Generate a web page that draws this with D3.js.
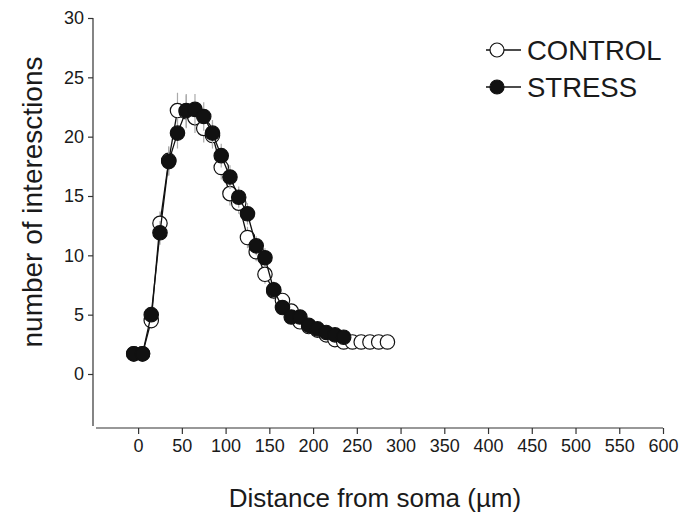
<!DOCTYPE html>
<html><head><meta charset="utf-8">
<script src="https://cdn.jsdelivr.net/npm/d3@7"></script>
<style>body{margin:0;background:#fff}svg{display:block}text{font-family:"Liberation Sans",Arial,sans-serif;fill:#1a1a1a}</style>
</head><body><svg id="c" width="684" height="514"></svg>
<script>
const xTicks = [0,50,100,150,200,250,300,350,400,450,500,550,600];
const yTicks = [0,5,10,15,20,25,30];
const controlX = [-5,5,15,25,35,45,55,65,75,85,95,105,115,125,135,145,155,165,175,185,195,205,215,225,235,245,255,265,275,285];
const controlY = [1.7,1.7,4.5,12.7,18.0,22.2,22.1,21.6,20.7,20.1,17.4,15.2,14.4,11.5,10.3,8.4,7.0,6.2,5.3,4.4,4.0,3.7,3.3,2.9,2.7,2.7,2.7,2.7,2.7,2.7];
const controlErr = [0.2,0.2,0.6,1.0,1.2,1.5,1.4,1.3,1.2,1.1,1.0,1.0,0.9,0.9,0.8,0.8,0.7,0.6,0.5,0.5,0.4,0.4,0.4,0.3,0.3,0.3,0.3,0.3,0.3,0.3];
const stressX = [-5,5,15,25,35,45,55,65,75,85,95,105,115,125,135,145,155,165,175,185,195,205,215,225,235];
const stressY = [1.7,1.7,5.0,11.9,17.9,20.3,22.2,22.3,21.7,20.3,18.4,16.6,14.9,13.5,10.8,9.8,7.1,5.6,4.8,4.8,4.1,3.8,3.5,3.3,3.1];
const stressErr = [0.2,0.2,0.6,1.0,1.2,1.3,1.4,1.3,1.2,1.1,1.0,1.0,0.9,0.9,0.8,0.8,0.7,0.6,0.5,0.5,0.4,0.4,0.4,0.3,0.3];

const svg = d3.select("#c");
const x = d3.scaleLinear().domain([-47,600]).range([97,663]);
const y = d3.scaleLinear().domain([0,30]).range([374,18]);
const yAxisX = 93, xAxisY = 428;
const FONT = "'Liberation Sans',Arial,sans-serif";

// Y axis
const gy = svg.append("g").attr("transform",`translate(${yAxisX},0)`)
  .call(d3.axisLeft(y).tickValues(yTicks).tickSize(5).tickPadding(4).tickSizeOuter(0));
gy.select(".domain").remove();
svg.append("line").attr("x1",yAxisX).attr("x2",yAxisX).attr("y1",18).attr("y2",426).attr("stroke","#333").attr("stroke-width",1.2);
gy.selectAll(".tick line").attr("stroke","#333").attr("stroke-width",1.2);
gy.selectAll(".tick text").attr("font-size",18).attr("fill","#1a1a1a").style("font-family",FONT);

// X axis
const gx = svg.append("g").attr("transform",`translate(0,${xAxisY})`)
  .call(d3.axisBottom(x).tickValues(xTicks).tickSize(6).tickPadding(5));
gx.select(".domain").remove();
svg.append("line").attr("x1",96).attr("x2",663).attr("y1",xAxisY).attr("y2",xAxisY).attr("stroke","#333").attr("stroke-width",1.2);
gx.selectAll(".tick line").attr("stroke","#333").attr("stroke-width",1.2);
gx.selectAll(".tick text").attr("font-size",18).attr("fill","#1a1a1a").style("font-family",FONT);

// Titles
svg.append("text").attr("x",375).attr("y",507).attr("text-anchor","middle").attr("font-size",26).text("Distance from soma (µm)");
svg.append("text").attr("transform","translate(42,202) rotate(-90)").attr("text-anchor","middle").attr("font-size",28).text("number of interesctions");

function series(xs, ys, es, fill){
  const pts = xs.map((d,i)=>({x:d,y:ys[i],e:es[i]}));
  svg.append("g").selectAll("line").data(pts).join("line")
    .attr("x1",d=>x(d.x)).attr("x2",d=>x(d.x))
    .attr("y1",d=>y(d.y+d.e)).attr("y2",d=>y(d.y-d.e))
    .attr("stroke","#aaa").attr("stroke-width",1.2);
  svg.append("path").datum(pts)
    .attr("d",d3.line().x(d=>x(d.x)).y(d=>y(d.y)))
    .attr("fill","none").attr("stroke","#111").attr("stroke-width",1.3);
  svg.append("g").selectAll("circle").data(pts).join("circle")
    .attr("cx",d=>x(d.x)).attr("cy",d=>y(d.y)).attr("r",7.2)
    .attr("fill",fill).attr("stroke","#111").attr("stroke-width",1.2);
}
series(controlX, controlY, controlErr, "#fff");
series(stressX, stressY, stressErr, "#111");

// Legend
const leg = [{label:"CONTROL",fill:"#fff",y:50},{label:"STRESS",fill:"#111",y:87}];
leg.forEach(l=>{
  svg.append("line").attr("x1",486).attr("x2",521).attr("y1",l.y).attr("y2",l.y).attr("stroke","#111").attr("stroke-width",1.3);
  svg.append("circle").attr("cx",497).attr("cy",l.y).attr("r",7).attr("fill",l.fill).attr("stroke","#111").attr("stroke-width",1.2);
  svg.append("text").attr("x",527).attr("y",l.y+10).attr("font-size",27.5).text(l.label);
});
</script></body></html>
